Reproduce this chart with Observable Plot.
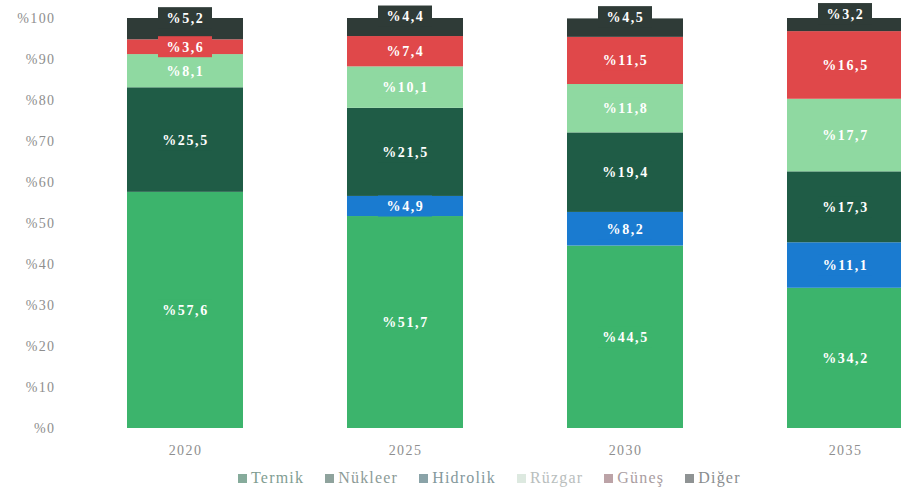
<!DOCTYPE html>
<html>
<head>
<meta charset="utf-8">
<script src="https://cdn.jsdelivr.net/npm/d3@7"></script>
<script src="https://cdn.jsdelivr.net/npm/@observablehq/plot@0.6"></script>
<style>
  body { margin: 0; background: #fff; }
  #wrap { position: relative; width: 901px; height: 495px; overflow: hidden; background: #fff; }
  #chart svg { display: block; overflow: visible; }
  g[aria-label="text"] text { letter-spacing: 1.6px; }
  g[aria-label="y-axis tick label"] text, g[aria-label="x-axis tick label"] text { letter-spacing: 1.4px; }
  #legend { position: absolute; top: 469px; left: 238px; display: flex; align-items: center;
            font-family: "Liberation Serif", serif; font-size: 16px; letter-spacing: 1.2px; white-space: nowrap; }
  #legend .item { display: flex; align-items: center; margin-right: 21px; }
  #legend .sw { width: 9px; height: 9px; margin-right: 4px; }
</style>
</head>
<body>
<div id="wrap"><div id="chart"></div><div id="legend"></div></div>
<script>
const years = ["2020", "2025", "2030", "2035"];
const sources = ["Termik", "Nükleer", "Hidrolik", "Rüzgar", "Güneş", "Diğer"];
const termik   = [57.6, 51.7, 44.5, 34.2];
const nukleer  = [0, 4.9, 8.2, 11.1];
const hidrolik = [25.5, 21.5, 19.4, 17.3];
const ruzgar   = [8.1, 10.1, 11.8, 17.7];
const gunes    = [3.6, 7.4, 11.5, 16.5];
const diger    = [5.2, 4.4, 4.5, 3.2];
const yTicks = [0, 10, 20, 30, 40, 50, 60, 70, 80, 90, 100];

const colors = ["#3cb46c", "#1a7bd0", "#1f5c46", "#8fd9a1", "#e0484a", "#2f3b37"];
const legendSwatch = ["#86ab9b", "#8fa39d", "#8aa3a8", "#dde9e0", "#bca3a7", "#8f9394"];
const legendText = ["#7f9d92", "#8c9b97", "#84989c", "#b9bebd", "#a99da1", "#8a8d8f"];

const seriesVals = [termik, nukleer, hidrolik, ruzgar, gunes, diger];
const rows = [];
years.forEach((yr, i) => {
  let acc = 0;
  sources.forEach((s, j) => {
    const v = seriesVals[j][i];
    rows.push({year: yr, source: s, value: v, y1: acc, y2: acc + v});
    acc += v;
  });
});

const pxPerUnit = (428 - 18) / 100;
const labelRows = rows.filter(d => d.value > 0).map(d => {
  const mid = (d.y1 + d.y2) / 2;
  const c = mid + (d.source === "Diğer" ? 11 / pxPerUnit : 0);
  return {...d, c, b1: c - 10.5 / pxPerUnit, b2: c + 10.5 / pxPerUnit,
          label: "%" + d.value.toFixed(1).replace(".", ",")};
});

const chart = Plot.plot({
  width: 901,
  height: 468,
  marginLeft: 70,
  marginRight: 0,
  marginTop: 18,
  marginBottom: 40,
  style: {fontFamily: "'Liberation Serif', serif", fontSize: "14px", color: "#8e8e8e", background: "#fff"},
  x: {domain: years, range: [70, 959], paddingInner: 0.473, paddingOuter: 0.254,
      label: null, tickSize: 0, tickPadding: 17},
  y: {domain: [0, 100], range: [428, 18], ticks: yTicks, tickFormat: d => "%" + d,
      tickSize: 0, tickPadding: 15, label: null},
  color: {domain: sources, range: colors},
  marks: [
    Plot.barY(rows, {x: "year", y1: "y1", y2: "y2", fill: "source"}),
    Plot.barY(labelRows, {x: "year", y1: "b1", y2: "b2", fill: "source", insetLeft: 31, insetRight: 31}),
    Plot.text(labelRows, {x: "year", y: "c", text: "label", fill: "white", fontWeight: "bold",
                          fontSize: 14, fontFamily: "'Liberation Serif', serif"})
  ]
});
document.getElementById("chart").appendChild(chart);

const legend = document.getElementById("legend");
sources.forEach((s, j) => {
  const item = document.createElement("div");
  item.className = "item";
  const sw = document.createElement("span");
  sw.className = "sw";
  sw.style.background = legendSwatch[j];
  const t = document.createElement("span");
  t.textContent = s;
  t.style.color = legendText[j];
  item.appendChild(sw);
  item.appendChild(t);
  legend.appendChild(item);
});
</script>
</body>
</html>
